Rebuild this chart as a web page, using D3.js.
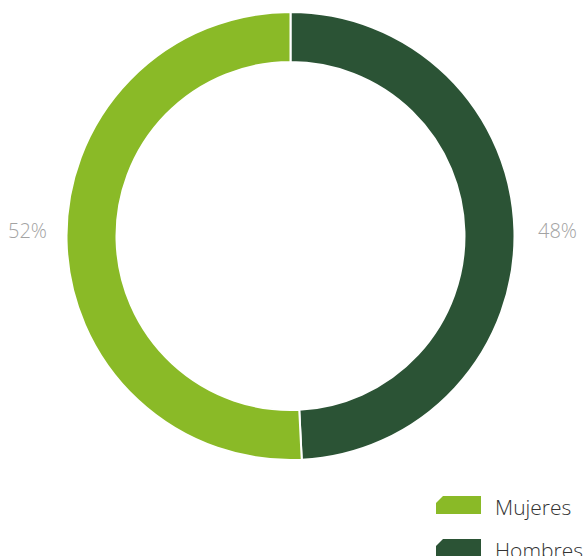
<!DOCTYPE html>
<html>
<head>
<meta charset="utf-8">
<script src="https://cdn.jsdelivr.net/npm/d3@7"></script>
<style>
  body { margin: 0; background: #fff; }
  svg { display: block; font-family: "Open Sans", sans-serif; }
</style>
</head>
<body>
<script>
// Chart data (slice sizes read from the drawn arcs, labels as printed)
var categories = ["Hombres", "Mujeres"];
var values = [49.2, 50.8];
var labels = ["48%", "52%"];
var legendOrder = ["Mujeres", "Hombres"];
var colors = { Mujeres: "#8aba27", Hombres: "#2b5335" };

var width = 585, height = 556;
var cx = 290.5, cy = 236;
var outerR = 224, innerR = 174;

var svg = d3.select("body").append("svg")
  .attr("width", width)
  .attr("height", height);

var pie = d3.pie().sort(null).value(function(d) { return d.value; });
var data = categories.map(function(c, i) { return { name: c, value: values[i], label: labels[i] }; });

var arc = d3.arc().innerRadius(innerR).outerRadius(outerR);

var g = svg.append("g").attr("transform", "translate(" + cx + "," + cy + ")");

g.selectAll("path.slice")
  .data(pie(data))
  .enter().append("path")
  .attr("class", "slice")
  .attr("d", arc)
  .attr("fill", function(d) { return colors[d.data.name]; })
  .attr("stroke", "#fff")
  .attr("stroke-width", 2);

// percentage labels, to the side of each slice, level with the centre
g.selectAll("text.pct")
  .data(pie(data))
  .enter().append("text")
  .attr("class", "pct")
  .attr("x", function(d) { return (d.startAngle + d.endAngle) / 2 < Math.PI ? 267 : -263; })
  .attr("y", 2)
  .attr("text-anchor", "middle")
  .style("font-size", "20px")
  .style("font-weight", 300)
  .style("fill", "#a3a3a3")
  .text(function(d) { return d.data.label; });

// legend
var legend = svg.append("g").attr("transform", "translate(436,496)");
var item = legend.selectAll("g.item")
  .data(legendOrder)
  .enter().append("g")
  .attr("class", "item")
  .attr("transform", function(d, i) { return "translate(0," + (i * 43) + ")"; });

item.append("path")
  .attr("d", "M7,0H45V18H0V7Z")
  .attr("fill", function(d) { return colors[d]; });

item.append("text")
  .attr("x", 59)
  .attr("y", 19)
  .style("font-size", "21px")
  .style("font-weight", 300)
  .style("fill", "#333")
  .text(function(d) { return d; });
</script>
</body>
</html>
